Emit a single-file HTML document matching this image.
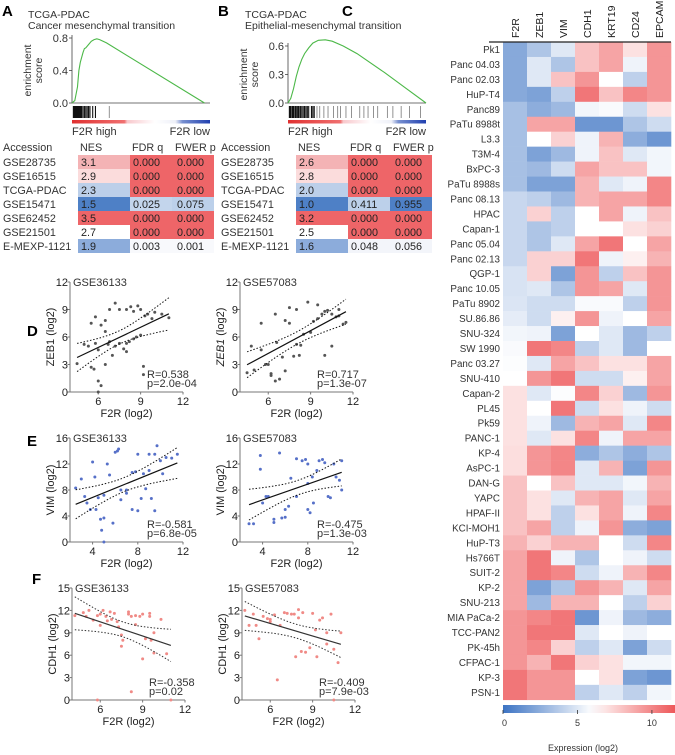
<!DOCTYPE html>
<html><head><meta charset="utf-8"><style>
body{margin:0;background:#fff;}
svg{display:block;font-family:"Liberation Sans",sans-serif;}
</style></head><body>
<svg id="fig" width="675" height="755" viewBox="0 0 675 755" xmlns="http://www.w3.org/2000/svg">
<text x="2" y="16" font-size="15" font-weight="bold">A</text>
<text x="218" y="16" font-size="15" font-weight="bold">B</text>
<text x="342" y="16" font-size="15" font-weight="bold">C</text>
<text x="27" y="336" font-size="15" font-weight="bold">D</text>
<text x="27" y="446" font-size="15" font-weight="bold">E</text>
<text x="32" y="584" font-size="15" font-weight="bold">F</text>
<text x="28" y="18" font-size="10.5" fill="#333">TCGA-PDAC<tspan x="28" dy="11">Cancer mesenchymal transition</tspan></text>
<text x="245" y="18" font-size="10.5" fill="#333">TCGA-PDAC<tspan x="245" dy="11">Epithelial-mesenchymal transition</tspan></text>
<g id="root"></g>
</svg>
<script>
const NS="http://www.w3.org/2000/svg";
const root=document.getElementById('root');
function el(tag,attrs,parent,txt){const e=document.createElementNS(NS,tag);for(const k in attrs)e.setAttribute(k,attrs[k]);if(txt!==undefined)e.textContent=txt;(parent||root).appendChild(e);return e;}

// ---------- GSEA data ----------
const gseaA_x=[0,0.02,0.04,0.05,0.06,0.08,0.09,0.1,0.12,0.14,0.16,0.18,0.2,0.25,0.96];
const gseaA_es=[0,0.03,0.2,0.4,0.5,0.62,0.67,0.68,0.72,0.76,0.78,0.79,0.78,0.74,0];
const gseaA_yticks=[0,0.4,0.8];
const gseaA_hits=[0.01,0.015,0.02,0.025,0.03,0.035,0.04,0.045,0.05,0.055,0.06,0.065,0.07,0.08,0.09,0.1,0.11,0.12,0.13,0.15,0.17,0.27];
const gseaB_x=[0,0.02,0.04,0.06,0.08,0.1,0.12,0.15,0.18,0.22,0.27,0.32,0.4,0.5,0.7,0.85,1.0];
const gseaB_es=[0,0.05,0.15,0.28,0.38,0.46,0.52,0.58,0.63,0.66,0.665,0.65,0.6,0.52,0.32,0.16,0];
const gseaB_yticks=[0,0.3,0.6];
const gseaB_hits=[0.01,0.015,0.02,0.03,0.035,0.04,0.05,0.055,0.06,0.07,0.075,0.08,0.09,0.1,0.11,0.12,0.13,0.14,0.15,0.17,0.18,0.19,0.21,0.23,0.26,0.29,0.33,0.36,0.38,0.42,0.46,0.52,0.55,0.58,0.62,0.65,0.72,0.76,0.82,0.88,0.96];

function gsea(ox,ymaxv,xs,es,ticks,hits,tag){
  const x0=ox,x1=ox+138,yb=103,yt=ymaxv===0.8?38:46;
  const sx=v=>x0+v*(x1-x0), sy=v=>yb-(v/ymaxv)*(yb-yt);
  const g=el('g',{});
  
  
  el('line',{x1:x0,y1:yt-3,x2:x0,y2:yb,stroke:'#444','stroke-width':0.8},g);
  el('line',{x1:x0,y1:yb,x2:x1,y2:yb,stroke:'#444','stroke-width':0.8},g);
  ticks.forEach(t=>{el('line',{x1:x0-3,y1:sy(t),x2:x0,y2:sy(t),stroke:'#444','stroke-width':0.8},g);
    el('text',{x:x0-4,y:sy(t)+4,'font-size':11,'text-anchor':'end',fill:'#333'},g,t.toFixed(1));});
  el('text',{x:0,y:0,'font-size':10.5,'text-anchor':'middle',fill:'#333',transform:`translate(${x0-41},${(yt+yb)/2}) rotate(-90)`},g,'enrichment');
  el('text',{x:0,y:0,'font-size':10.5,'text-anchor':'middle',fill:'#333',transform:`translate(${x0-30},${(yt+yb)/2}) rotate(-90)`},g,'score');
  const c=el('path',{d:xs.map((v,i)=>(i?'L':'M')+sx(v).toFixed(1)+','+sy(es[i]).toFixed(1)).join(''),fill:'none',stroke:'#4cb848','stroke-width':1.1},g);
  
  
  hits.forEach(h=>{const l=el('line',{x1:sx(h),y1:106,x2:sx(h),y2:118,stroke:h<0.2?'#111':'#777','stroke-width':h<0.2?1.1:0.8},g);
    
    });
  const gid='grad'+tag;
  const d=el('defs',{},g);const lg=el('linearGradient',{id:gid},d);
  [[0,'#e03030'],[0.38,'#f07070'],[0.4,'#f8c8cc'],[0.6,'#fff'],[0.75,'#eef0f8'],[0.8,'#7890d0'],[1,'#2040b0']].forEach(s=>el('stop',{offset:s[0],'stop-color':s[1]},lg));
  el('rect',{x:x0,y:120,width:x1-x0,height:3.5,fill:`url(#${gid})`},g);
  el('text',{x:x0,y:135,'font-size':11,fill:'#333'},g,'F2R high');
  el('text',{x:x1,y:135,'font-size':11,fill:'#333','text-anchor':'end'},g,'F2R low');
}
gsea(72,0.8,gseaA_x,gseaA_es,gseaA_yticks,gseaA_hits,'a');
gsea(288,0.6,gseaB_x,gseaB_es,gseaB_yticks,gseaB_hits,'b');

// ---------- tables ----------
const accessions=['GSE28735','GSE16515','TCGA-PDAC','GSE15471','GSE62452','GSE21501','E-MEXP-1121'];
const nesA=['3.1','2.9','2.3','1.5','3.5','2.7','1.9'];
const fdrA=['0.000','0.000','0.000','0.025','0.000','0.000','0.003'];
const fwerA=['0.000','0.000','0.000','0.075','0.000','0.000','0.001'];
const nesB=['2.6','2.8','2.0','1.0','3.2','2.5','1.6'];
const fdrB=['0.000','0.000','0.000','0.411','0.000','0.000','0.048'];
const fwerB=['0.000','0.000','0.000','0.955','0.000','0.000','0.056'];
const nesCol=['#f4b3b5','#fbdcdc','#bccfe9','#4e80c6','#ee6568','#ffffff','#8cacdb'];
function pCol(v){v=+v;if(v===0)return '#ee6568';if(v<0.01)return '#f8f9fc';if(v<0.06)return v<0.03?'#c3d5ec':'#f3f5fa';if(v<0.5)return '#bcd0ea';return '#4e80c6';}
function table(ox,nes,fdr,fwer,tag){
  const g=el('g',{});
  
  
  const cx=[ox+76,ox+128,ox+170,ox+212];
  el('text',{x:ox+1,y:151,'font-size':10.8,fill:'#333'},g,'Accession');
  el('text',{x:cx[0]+2,y:151,'font-size':10.8,fill:'#333'},g,'NES');
  el('text',{x:cx[1]+2,y:151,'font-size':10.8,fill:'#333'},g,'FDR q');
  el('text',{x:cx[2]+3,y:151,'font-size':10.8,fill:'#333'},g,'FWER p');
  accessions.forEach((a,i)=>{const y=155+i*14;
    el('text',{x:ox+1,y:y+11,'font-size':10.8,fill:'#333'},g,a);
    el('rect',{x:cx[0],y:y,width:cx[1]-cx[0],height:14,fill:nesCol[i]},g);
    el('rect',{x:cx[1],y:y,width:cx[2]-cx[1],height:14,fill:pCol(fdr[i])},g);
    el('rect',{x:cx[2],y:y,width:cx[3]-cx[2],height:14,fill:pCol(fwer[i])},g);
    el('text',{x:cx[0]+3,y:y+11,'font-size':10.8,fill:'#222'},g,nes[i]);
    el('text',{x:cx[1]+3,y:y+11,'font-size':10.8,fill:'#222'},g,fdr[i]);
    el('text',{x:cx[2]+5,y:y+11,'font-size':10.8,fill:'#222'},g,fwer[i]);});
}
table(2,nesA,fdrA,fwerA,'a');
table(220,nesB,fdrB,fwerB,'b');

// ---------- heatmap ----------
const genes=['F2R','ZEB1','VIM','CDH1','KRT19','CD24','EPCAM'];
const cellLines=['Pk1','Panc 04.03','Panc 02.03','HuP-T4','Panc89','PaTu 8988t','L3.3','T3M-4','BxPC-3','PaTu 8988s','Panc 08.13','HPAC','Capan-1','Panc 05.04','Panc 02.13','QGP-1','Panc 10.05','PaTu 8902','SU.86.86','SNU-324','SW 1990','Panc 03.27','SNU-410','Capan-2','PL45','Pk59','PANC-1','KP-4','AsPC-1','DAN-G','YAPC','HPAF-II','KCI-MOH1','HuP-T3','Hs766T','SUIT-2','KP-2','SNU-213','MIA PaCa-2','TCC-PAN2','PK-45h','CFPAC-1','KP-3','PSN-1'];
const expr=[
[2.3,3.5,5,8,9,7,9.5],[2.3,5,3.5,8,9,5.5,9.5],[2.3,5,8,9.5,6,4,9.5],[2.3,2,4,10.5,8,10,9.5],
[3.3,2.5,3,5.6,5.8,4.5,7],[3.3,9,9,1.5,1.5,3.5,4.5],[3.3,6,7.5,5.5,8.5,2.5,1.5],[3.3,2,3,5.5,8,5,5.6],[3.3,3,4.5,9,8,8,5.6],[3.3,2,2,8.5,5,5.5,10],
[4.3,4,3,8.5,9,9,10],[4.3,7.5,4,6,9,5.5,8],[4.3,3.5,4,6,6,7,7.5],[4.3,3.5,5,9,10.5,6,9],[4.3,7.5,7.5,10.5,5.5,6.5,8.5],
[4.8,7.5,2,9.5,4,8,9.5],[4.8,5,3.5,9.5,9,5,9.5],[4.9,4.5,4.5,5.8,5.8,4,9.5],[5.2,4.5,6.5,9.5,5.5,6,9],
[5.6,5.5,2,6,5,3,4],[5.8,10.5,10,4,5,3,6],[5.9,5,9,8,7,7,9],[6,9.5,10.5,4.5,4.5,6.5,9],
[7,5,5.9,10,7.5,3,9.5],[7,6,10.5,4.5,7,5.5,4.5],[7,5.5,3,8.5,9,5,10],[7,5,7,10,5.5,9,9],[7.1,9.5,10,2.5,3.5,2.5,3.5],[7.1,9.5,10,5,8.5,2,9.5],
[8,6,8,5,5,5.6,8.5],[8,7,5,8.5,9,5,9],[8,7,4,7,9,5.5,10],[8,9,4,5.5,9.5,2.5,2],[8.5,7.5,8.5,8.5,6,4.5,10],
[9,10.5,5.5,3.5,6,5.5,4.5],[9,10.5,10,4.5,5.5,8.5,10],[9,2,3.5,9.5,8.5,5,9],[9,3,8.5,8.5,6,4,7.5],
[9.5,10,10.5,1.5,5.5,3,2.5],[9.5,10.5,10.5,5,6,5.5,6],[9.5,10,7.5,4,5,2,4.5],[9.5,8.5,10.5,7.5,7,5.6,5.6],[10.5,9.5,9.5,6,7,2,1.5],[10.5,9.5,9.5,4,5,4,5.6]];
const cbTicks=[0,5,10];
function mix(a,b,t){return a.map((v,i)=>Math.round(v+(b[i]-v)*t));}
function heatCol(v){const B=[60,115,195],W=[255,255,255],R=[238,88,90];let c;
  if(v<=6){c=mix(B,W,Math.max(0,v)/6);}else{c=mix(W,R,Math.min(1,(v-6)/5.5));}return `rgb(${c})`;}
const hx0=503,cw=24,hy0=42,rh=14.95;
const hm=el('g',{});


genes.forEach((gname,j)=>{const t=el('text',{x:0,y:0,'font-size':10.5,fill:'#222',transform:`translate(${hx0+j*cw+cw/2+4},38) rotate(-90)`},hm,gname);
  
  });
cellLines.forEach((n,i)=>{const t=el('text',{x:500,y:hy0+i*rh+rh/2+3.5,'font-size':9.8,'text-anchor':'end',fill:'#333'},hm,n);
  
  
  expr[i].forEach((v,j)=>{const r=el('rect',{x:hx0+j*cw,y:hy0+i*rh,width:cw+0.3,height:rh+0.3,fill:heatCol(v)},hm);
    
    });});
el('line',{x1:hx0-14,y1:hy0,x2:hx0+7*cw,y2:hy0,stroke:'#222','stroke-width':1.2},hm);
// colorbar
const cbx0=503,cbx1=675,cbmax=11.55,cbs=v=>cbx0+v/cbmax*(cbx1-cbx0);
const defs=el('defs',{});const cg=el('linearGradient',{id:'cbg'},defs);
for(let k=0;k<=10;k++){el('stop',{offset:k/10,'stop-color':heatCol(k/10*cbmax)},cg);}
const cb=el('rect',{x:cbx0,y:705,width:cbx1-cbx0,height:8,fill:'url(#cbg)'});


cbTicks.forEach(t=>{el('line',{x1:cbs(t),y1:710,x2:cbs(t),y2:714,stroke:'#333','stroke-width':0.8});
  el('text',{x:cbs(t)+(t===0?-1:0),y:726,'font-size':9,'text-anchor':t===0?'start':'middle',fill:'#333'},null,t);});
el('text',{x:583,y:751,'font-size':9,'text-anchor':'middle',fill:'#333'},null,'Expression (log2)');

// ---------- scatter data ----------
const dL_x=[4.5,5,5.3,5.5,5.7,5.8,6,6,6.2,6,6.2,6.5,6.5,6.7,6.8,7,7.2,7.5,7.8,8,8,8.2,8.5,8.7,9,9.2,9.2,5.8,6.8,7.2,7.5,8,8.5,8.8,9,9.5,10,10.5,11,9.8,9.3,8.3,6.5,5.5];
const dL_y=[3.1,5.2,5,2.7,2.5,5.3,4.6,1.2,0.7,0,7.3,6.6,3,5.2,5.5,4,5,5.3,4.7,4.4,5.3,5.5,5.8,6,6.2,2.8,1.9,8.2,9,9.7,9,9,8.8,9.4,9,8.5,8.7,8.5,8.1,8,8.3,9.3,7.8,7.5];
const dR_x=[4.5,4.8,5,5.5,5.5,5.8,6,6.2,6.2,6.5,6.6,6.8,7,7.2,7.2,7.5,7.8,8,8.2,8.3,8.5,9,9.2,9.5,9.8,10,10.2,10.5,10.8,11,11.3,11.5,8.8,9.5,6.5,10,10.5,8,7.5,11];
const dR_y=[2.1,5,2.4,4.6,7.5,3,3,1.8,2,1.2,5.4,1.4,3.8,2.3,7.8,7.5,3.9,5.2,4,5.1,6.3,6.5,7.7,8,8.5,8.8,8.9,8.5,8.2,8.3,7.4,7.6,9.8,9.5,8.5,4,5,9,9.2,9];
const eL_x=[2.5,3,3.3,3.5,3.8,4,4.2,4.3,4.5,4.7,4.8,5,5,5.3,5.5,5.8,6,6.2,6.3,6.5,6.5,7,7,7.5,7.5,8,8,8.3,8.5,8.7,9,9,9.2,9.5,9.5,9.7,10,10.2,10.5,11,11.5,7.8,5];
const eL_y=[8.3,9.7,7,6,5,12.3,10,5,6.8,3.5,1.8,7.2,3.7,12,10.3,2.9,13.8,14,14.3,6.5,8,7.5,8,10.7,5,4.8,13.5,6.7,10.5,8.2,13.5,11,6.7,4.8,13.5,14.8,12.5,10.5,13,12.9,13.5,10.8,0];
const eR_x=[2.8,3.2,3.8,3.8,4,4.3,4.5,5,5,5.5,5.7,6,6,6.3,6.5,7,7,7.5,7.8,8,8,8,8.2,8.4,8.5,8.8,9,9.3,9.5,9.8,10,10.3,10.5,11,11,10.8];
const eR_y=[2.8,2.8,13.3,11.2,6,7,7,3.5,3,13.7,3.7,3.8,5,5.5,9.8,7,12.8,12.5,12.7,12,9,5,4.5,10,6,11,12.5,12.7,12.2,7,6.8,12,10,12.5,8,9.5];
const fL_x=[4.2,4.8,5,5.2,5.5,5.8,6,6,6.2,6.4,6.5,6.7,6.8,7,7.2,7.3,7.5,7.6,8,8,8.2,8.5,8.5,8.8,9,9,9.2,9.5,9.5,9.6,9.8,9.8,10.3,10.7,8.2,5.8,11,7.5];
const fL_y=[11.3,11.7,11.2,12,10.7,11.3,11.5,10,12,11.2,10.6,11.8,10.8,11.6,10.5,9.8,7.2,8,11.5,11.8,11.2,10.1,11.3,11.2,11.5,5.5,8.2,11.6,11.2,8,6.3,9,10.8,6.2,1.1,0,0,8.7];
const fR_x=[4.2,4.5,4.8,5,5.2,5.5,5.8,6,6,6.3,6.5,6.7,7,7.2,7.5,7.7,7.8,8,8,8.2,8.3,8.5,8.8,9,9.2,9.3,9.5,9.7,10,10,10.3,10.5,10.5,10.8,11];
const fR_y=[12,10,11.5,10,8.2,11.2,10.9,10.8,10.5,11.4,2.7,10,11.7,11.6,11.5,11.5,5.8,12.1,11,6.5,11.7,6.4,7,11.6,9.4,5.8,10.7,11,9,7.5,11.5,6.8,0,5,9];

function scatter(cfg){
  const {ax,yb,yt,xd,yd,xt,yt_,xs,ys,col,lineCol,ylab,title,R,P,tag,italic}=cfg;
  const ax1=ax+113;
  const sx=v=>ax+(v-xd[0])/(xd[1]-xd[0])*(ax1-ax), sy=v=>yb-(v-yd[0])/(yd[1]-yd[0])*(yb-yt);
  const g=el('g',{});
  
  
  el('line',{x1:ax,y1:yt,x2:ax,y2:yb,stroke:'#777','stroke-width':1},g);
  el('line',{x1:ax,y1:yb,x2:ax1,y2:yb,stroke:'#777','stroke-width':1},g);
  yt_.forEach(t=>{el('line',{x1:ax-2.5,y1:sy(t),x2:ax,y2:sy(t),stroke:'#777'},g);
    el('text',{x:ax-2,y:sy(t)+4,'font-size':11,'text-anchor':'end',fill:'#222'},g,t);});
  xt.forEach(t=>{el('line',{x1:sx(t),y1:yb,x2:sx(t),y2:yb+2.5,stroke:'#777'},g);
    el('text',{x:sx(t),y:yb+13,'font-size':11,'text-anchor':'middle',fill:'#222'},g,t);});
  el('text',{x:ax+3,y:yt+4,'font-size':11,fill:'#333'},g,title);
  el('text',{x:(ax+ax1)/2,y:yb+25,'font-size':11,'text-anchor':'middle',fill:'#222'},g,'F2R (log2)');
  const yl=el('text',{x:0,y:0,'font-size':11,'text-anchor':'middle',fill:'#222',transform:`translate(${ax-16},${(yt+yb)/2}) rotate(-90)`},g);
  if(italic){el('tspan',{'font-style':'italic'},yl,'ZEB1');el('tspan',{},yl,' (log2)');}else yl.textContent=ylab;
  el('text',{x:ax+77,y:yb-14,'font-size':11,fill:'#333'},g,'R='+R);
  el('text',{x:ax+77,y:yb-5,'font-size':11,fill:'#333'},g,'p='+P);
  xs.forEach((x,i)=>{const c=el('circle',{cx:sx(x),cy:sy(ys[i]),r:1.5,fill:col},g);
    
    });
  const n=xs.length,mx=xs.reduce((a,b)=>a+b)/n,my=ys.reduce((a,b)=>a+b)/n;
  let sxx=0,sxy=0;xs.forEach((x,i)=>{sxx+=(x-mx)**2;sxy+=(x-mx)*(ys[i]-my);});
  const b=sxy/sxx,a=my-b*mx;let sse=0;xs.forEach((x,i)=>{sse+=(ys[i]-a-b*x)**2;});
  const s=Math.sqrt(sse/(n-2));
  const lo=Math.min(...xs),hi=Math.max(...xs);
  const rl=el('line',{x1:sx(lo),y1:sy(a+b*lo),x2:sx(hi),y2:sy(a+b*hi),stroke:lineCol,'stroke-width':1.2},g);
  
  
  [1,-1].forEach(sg=>{let d='';for(let k=0;k<=20;k++){const x=lo+(hi-lo)*k/20;const y=a+b*x+sg*2.01*s*Math.sqrt(1/n+(x-mx)**2/sxx);d+=(k?'L':'M')+sx(x).toFixed(1)+','+sy(y).toFixed(1);}
    const p=el('path',{d:d,fill:'none',stroke:lineCol,'stroke-width':1,'stroke-dasharray':'1.5,1.8'},g);
    
    });
}
scatter({ax:70,yb:392,yt:282,xd:[4,12],yd:[0,12],xt:[6,9,12],yt_:[0,3,6,9,12],xs:dL_x,ys:dL_y,col:'#555',lineCol:'#111',ylab:'ZEB1 (log2)',title:'GSE36133',R:'0.538',P:'2.0e-04',tag:'d-gse36133'});
scatter({ax:240,yb:392,yt:282,xd:[4,12],yd:[0,12],xt:[6,9,12],yt_:[0,3,6,9,12],xs:dR_x,ys:dR_y,col:'#555',lineCol:'#111',ylab:'ZEB1 (log2)',italic:true,title:'GSE57083',R:'0.717',P:'1.3e-07',tag:'d-gse57083'});
scatter({ax:70,yb:542,yt:438,xd:[2,12],yd:[0,16],xt:[4,8,12],yt_:[0,4,8,12,16],xs:eL_x,ys:eL_y,col:'#5670c8',lineCol:'#111',ylab:'VIM (log2)',title:'GSE36133',R:'-0.581',P:'6.8e-05',tag:'e-gse36133'});
scatter({ax:240,yb:542,yt:438,xd:[2,12],yd:[0,16],xt:[4,8,12],yt_:[0,4,8,12,16],xs:eR_x,ys:eR_y,col:'#5670c8',lineCol:'#111',ylab:'VIM (log2)',title:'GSE57083',R:'-0.475',P:'1.3e-03',tag:'e-gse57083'});
scatter({ax:72,yb:700,yt:588,xd:[4,12],yd:[0,15],xt:[6,9,12],yt_:[0,3,6,9,12,15],xs:fL_x,ys:fL_y,col:'#f08a86',lineCol:'#333',ylab:'CDH1 (log2)',title:'GSE36133',R:'-0.358',P:'0.02',tag:'f-gse36133'});
scatter({ax:242,yb:700,yt:588,xd:[4,12],yd:[0,15],xt:[6,9,12],yt_:[0,3,6,9,12,15],xs:fR_x,ys:fR_y,col:'#f08a86',lineCol:'#333',ylab:'CDH1 (log2)',title:'GSE57083',R:'-0.409',P:'7.9e-03',tag:'f-gse57083'});
</script>
</body></html>
